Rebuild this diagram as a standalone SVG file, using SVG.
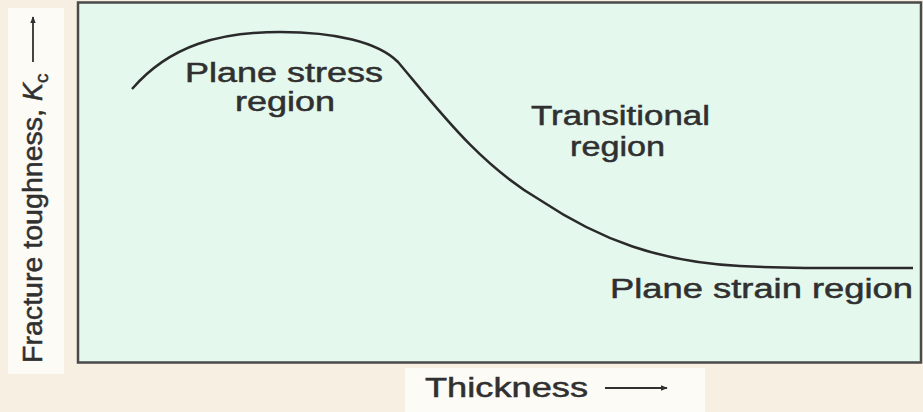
<svg xmlns="http://www.w3.org/2000/svg" width="923" height="412" viewBox="0 0 923 412">
<style>
text{font-family:"Liberation Sans",Arial,sans-serif;fill:#303030;stroke:#303030;stroke-width:0.5;font-size:27px}
</style>
<defs>
<marker id="ah" viewBox="0 0 10 10" refX="9" refY="5" markerWidth="7" markerHeight="7" orient="auto" markerUnits="userSpaceOnUse"><path d="M0,1 L10,5 L0,9 z" fill="#303030"/></marker>
</defs>
<rect x="0" y="0" width="923" height="412" fill="#f7efe1"/>
<rect x="8" y="8" width="56" height="366" fill="#fdfbf6"/>
<rect x="405" y="368" width="300" height="44" fill="#fdfbf6"/>
<g id="plot">
<rect x="78" y="2.5" width="843" height="360" fill="#e4f8ee" stroke="#4a4a4a" stroke-width="2.5"/>
</g>
<g id="connectors">
<path d="M132,89 C170,45 220,32 280,32 C335,32 378,42 398,62 C440,112 480,165 540,200 C600,240 660,262 740,266 C800,269 860,268 913,268" fill="none" stroke="#2a2a2a" stroke-width="2.5"/>
<line x1="605" y1="388" x2="667" y2="388" stroke="#303030" stroke-width="1.8" marker-end="url(#ah)"/>
<line x1="33" y1="62" x2="33" y2="17" stroke="#303030" stroke-width="1.8" marker-end="url(#ah)"/>
</g>
<g id="labels">
<text x="185" y="82" textLength="198" lengthAdjust="spacingAndGlyphs">Plane stress</text>
<text x="235" y="111" textLength="100" lengthAdjust="spacingAndGlyphs">region</text>
<text x="531" y="125" textLength="179" lengthAdjust="spacingAndGlyphs">Transitional</text>
<text x="570" y="156" textLength="95" lengthAdjust="spacingAndGlyphs">region</text>
<text x="610" y="298" textLength="303" lengthAdjust="spacingAndGlyphs">Plane strain region</text>
<text x="425" y="397" textLength="163" lengthAdjust="spacingAndGlyphs">Thickness</text>
<text transform="translate(42,363) rotate(-90)" font-size="29"><tspan textLength="262" lengthAdjust="spacingAndGlyphs">Fracture toughness, </tspan><tspan font-style="italic">K</tspan><tspan font-size="19" dy="6">c</tspan></text>
</g>
</svg>
